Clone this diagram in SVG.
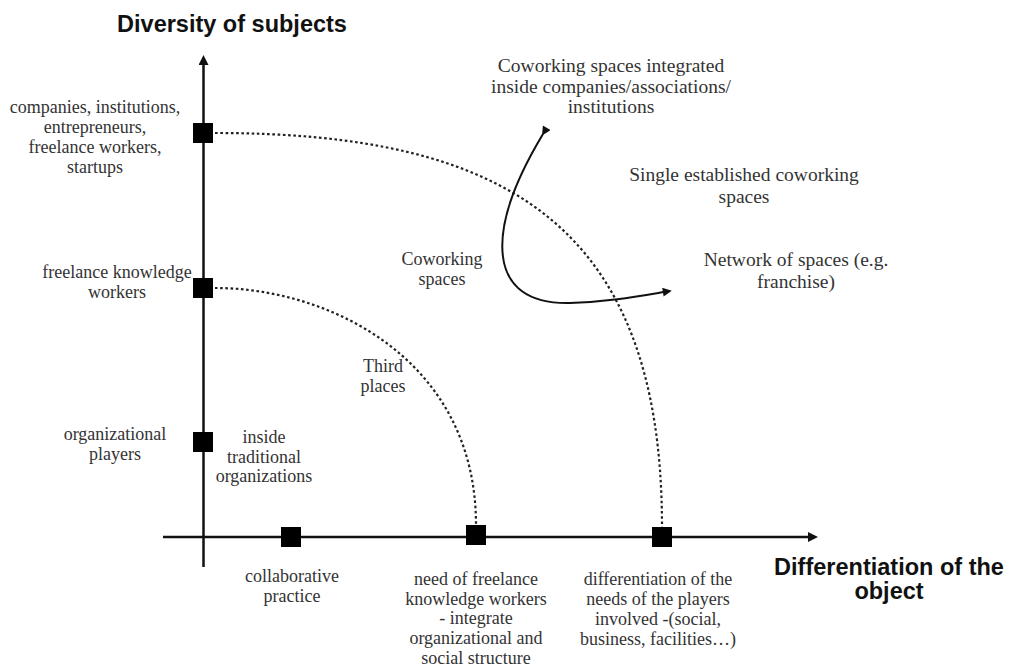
<svg xmlns="http://www.w3.org/2000/svg" width="1009" height="666" viewBox="0 0 1009 666">
  <defs>
    <marker id="arrow" viewBox="0 0 10 10" refX="7" refY="5" markerUnits="userSpaceOnUse" markerWidth="11" markerHeight="10" orient="auto">
      <path d="M0,0 L10,5 L0,10 z" fill="#111"/>
    </marker>
    <marker id="arrow-s" viewBox="0 0 10 10" refX="8" refY="5" markerUnits="userSpaceOnUse" markerWidth="10" markerHeight="9" orient="auto">
      <path d="M0,0 L10,5 L0,10 z" fill="#111"/>
    </marker>
  </defs>
  <style>
    .axis { stroke: #111; stroke-width: 2.5; fill: none; }
    .dotted { stroke: #222; stroke-width: 2.2; stroke-dasharray: 2.6 2.6; fill: none; }
    .solid { stroke: #111; stroke-width: 2; fill: none; }
    .mark { fill: #000; }
    .lbl { font-family: "Liberation Serif", "Times New Roman", serif; font-size: 18px; fill: #333; text-anchor: middle; }
    .lbl-r { font-family: "Liberation Serif", "Times New Roman", serif; font-size: 19.5px; fill: #333; text-anchor: middle; }
    .title { font-family: "Liberation Sans", Arial, sans-serif; font-size: 23.5px; font-weight: bold; fill: #111; text-anchor: middle; }
  </style>
  <rect width="1009" height="666" fill="#fff"/>

  <!-- axes -->
  <g id="axes">
    <line class="axis" x1="203.5" y1="567" x2="203.5" y2="58" marker-end="url(#arrow)"/>
    <line class="axis" x1="163" y1="537" x2="815" y2="537" marker-end="url(#arrow)"/>
    <text class="title" x="232" y="32">Diversity of subjects</text>
    <text class="title" x="889" y="575">Differentiation of the</text>
    <text class="title" x="889" y="599">object</text>
  </g>

  <!-- connectors -->
  <g id="connectors">
    <path class="dotted" d="M215,133 C500,133 662,220 662,527"/>
    <path class="dotted" d="M215,288 C330,288 476,360 476,525"/>
    <path class="solid" d="M543,134 C484,232 486,305 570,303 C610,302 640,296 670,291" marker-start="url(#arrow-s)" marker-end="url(#arrow-s)"/>
  </g>

  <!-- vertical axis nodes -->
  <g id="node-companies">
    <rect class="mark" x="193" y="123" width="20" height="20"/>
    <text class="lbl" x="95" y="113">companies, institutions,</text>
    <text class="lbl" x="95" y="133">entrepreneurs,</text>
    <text class="lbl" x="95" y="153">freelance workers,</text>
    <text class="lbl" x="95" y="173">startups</text>
  </g>
  <g id="node-freelance">
    <rect class="mark" x="193" y="278" width="20" height="20"/>
    <text class="lbl" x="117" y="278">freelance knowledge</text>
    <text class="lbl" x="117" y="298">workers</text>
  </g>
  <g id="node-organizational">
    <rect class="mark" x="193" y="432" width="20" height="20"/>
    <text class="lbl" x="115" y="440">organizational</text>
    <text class="lbl" x="115" y="460">players</text>
    <text class="lbl" x="264" y="443">inside</text>
    <text class="lbl" x="264" y="463">traditional</text>
    <text class="lbl" x="264" y="482">organizations</text>
  </g>

  <!-- horizontal axis nodes -->
  <g id="node-collaborative">
    <rect class="mark" x="281" y="527" width="20" height="20"/>
    <text class="lbl" x="292" y="582">collaborative</text>
    <text class="lbl" x="292" y="602">practice</text>
  </g>
  <g id="node-need">
    <rect class="mark" x="466" y="525" width="20" height="20"/>
    <text class="lbl" x="476" y="585">need of freelance</text>
    <text class="lbl" x="476" y="605">knowledge workers</text>
    <text class="lbl" x="476" y="624">- integrate</text>
    <text class="lbl" x="476" y="644">organizational and</text>
    <text class="lbl" x="476" y="664">social structure</text>
  </g>
  <g id="node-differentiation">
    <rect class="mark" x="652" y="527" width="20" height="20"/>
    <text class="lbl" x="658" y="585">differentiation of the</text>
    <text class="lbl" x="658" y="605">needs of the players</text>
    <text class="lbl" x="658" y="625">involved -(social,</text>
    <text class="lbl" x="658" y="645">business, facilities…)</text>
  </g>

  <!-- region labels -->
  <g id="label-third-places">
    <text class="lbl" x="383" y="372">Third</text>
    <text class="lbl" x="383" y="392">places</text>
  </g>
  <g id="label-coworking">
    <text class="lbl" x="442" y="265">Coworking</text>
    <text class="lbl" x="442" y="285">spaces</text>
  </g>
  <g id="label-integrated">
    <text class="lbl-r" x="611" y="72">Coworking spaces integrated</text>
    <text class="lbl-r" x="611" y="93">inside companies/associations/</text>
    <text class="lbl-r" x="611" y="113">institutions</text>
  </g>
  <g id="label-single">
    <text class="lbl-r" x="744" y="181">Single established coworking</text>
    <text class="lbl-r" x="744" y="203">spaces</text>
  </g>
  <g id="label-network">
    <text class="lbl-r" x="796" y="266">Network of spaces (e.g.</text>
    <text class="lbl-r" x="796" y="288">franchise)</text>
  </g>
</svg>
